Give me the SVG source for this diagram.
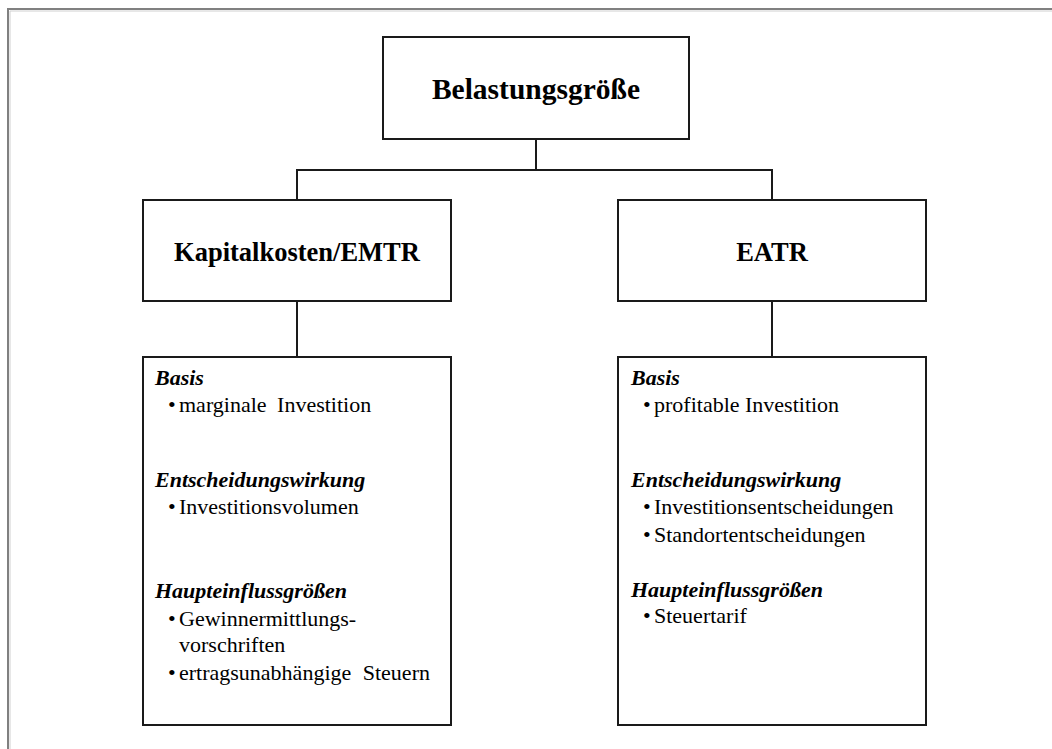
<svg xmlns="http://www.w3.org/2000/svg" width="1052" height="749" viewBox="0 0 1052 749">
<style>
.box{fill:#fff;stroke:#1a1a1a;stroke-width:2}
.con{fill:none;stroke:#1a1a1a;stroke-width:2}
.h1{font-family:"Liberation Serif","Times New Roman",serif;font-weight:bold;fill:#000;text-anchor:middle}
.hd{font-family:"Liberation Serif","Times New Roman",serif;font-weight:bold;font-style:italic;font-size:22px;fill:#000}
.tx{font-family:"Liberation Serif","Times New Roman",serif;font-size:22px;fill:#000}
</style>
<rect width="1052" height="749" fill="#fff"/>
<g id="frame">
<path d="M8 749 V9 H1052" fill="none" stroke="#808080" stroke-width="2"/>
<path d="M10 749 V11 H1052" fill="none" stroke="#d0d0d0" stroke-width="1"/>
</g>
<g id="connectors">
<path class="con" d="M536 139 V170"/>
<path class="con" d="M297 200 V170 H772 V200"/>
<path class="con" d="M297 301 V357"/>
<path class="con" d="M772 301 V357"/>
</g>
<g id="node-belastung">
<rect class="box" x="383" y="37" width="306" height="102"/>
<text class="h1" x="536" y="99" font-size="29.5">Belastungsgröße</text>
</g>
<g id="node-kapitalkosten">
<rect class="box" x="143" y="200" width="308" height="101"/>
<text class="h1" x="297" y="261" font-size="26.5">Kapitalkosten/EMTR</text>
</g>
<g id="node-eatr">
<rect class="box" x="618" y="200" width="308" height="101"/>
<text class="h1" x="772" y="261" font-size="26.5">EATR</text>
</g>
<g id="node-kapital-details">
<rect class="box" x="143" y="357" width="308" height="368"/>
<text class="hd" x="155" y="385">Basis</text>
<text class="tx" y="412"><tspan x="168">•</tspan><tspan x="179" word-spacing="5">marginale Investition</tspan></text>
<text class="hd" x="155" y="487">Entscheidungswirkung</text>
<text class="tx" y="514"><tspan x="168">•</tspan><tspan x="179">Investitionsvolumen</tspan></text>
<text class="hd" x="155" y="598">Haupteinflussgrößen</text>
<text class="tx" y="626"><tspan x="168">•</tspan><tspan x="179">Gewinnermittlungs-</tspan></text>
<text class="tx" x="179" y="652">vorschriften</text>
<text class="tx" y="680"><tspan x="168">•</tspan><tspan x="179" word-spacing="6">ertragsunabhängige Steuern</tspan></text>
</g>
<g id="node-eatr-details">
<rect class="box" x="618" y="357" width="308" height="368"/>
<text class="hd" x="631" y="385">Basis</text>
<text class="tx" y="412"><tspan x="643">•</tspan><tspan x="654">profitable Investition</tspan></text>
<text class="hd" x="631" y="487">Entscheidungswirkung</text>
<text class="tx" y="514"><tspan x="643">•</tspan><tspan x="654">Investitionsentscheidungen</tspan></text>
<text class="tx" y="542"><tspan x="643">•</tspan><tspan x="654">Standortentscheidungen</tspan></text>
<text class="hd" x="631" y="597">Haupteinflussgrößen</text>
<text class="tx" y="623"><tspan x="643">•</tspan><tspan x="654">Steuertarif</tspan></text>
</g>
</svg>
